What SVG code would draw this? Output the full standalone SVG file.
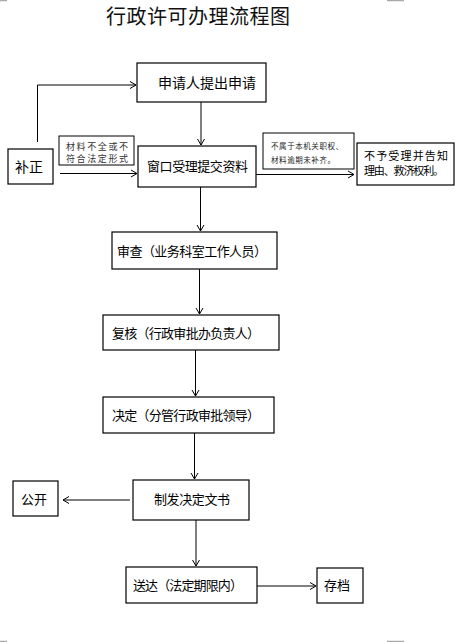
<svg xmlns="http://www.w3.org/2000/svg" width="469" height="642" viewBox="0 0 469 642">
<defs>
<marker id="arr" markerWidth="10" markerHeight="10" refX="8" refY="5" orient="auto" markerUnits="userSpaceOnUse">
<polyline points="2,1.5 8,5 2,8.5" fill="none" stroke="#000" stroke-width="1"/>
</marker>
<style>
text{font-family:"Noto Sans CJK SC","Noto Sans CJK JP",sans-serif;fill:#000}
.box{fill:#fff;stroke:#000;stroke-width:1.2}
.t13{font-size:13px}
.t14{font-size:14px}
.sm{font-size:9px;fill:#333}
.xs{font-size:7.5px;fill:#222}
.ln{fill:none;stroke:#000;stroke-width:1}
.mk{stroke:#aaa;stroke-width:1.5}
</style>
</defs>
<rect width="469" height="642" fill="#fff"/>
<line class="mk" x1="0" y1="0.5" x2="7" y2="0.5"/>
<line class="mk" x1="387" y1="0.5" x2="404" y2="0.5"/>
<line class="mk" x1="0" y1="641.5" x2="7" y2="641.5"/>
<line class="mk" x1="387" y1="641.5" x2="404" y2="641.5"/>
<text x="106" y="24" style="font-size:20px;fill:#111" textLength="184">行政许可办理流程图</text>

<g id="connectors">
<polyline class="ln" points="37.5,142 37.5,85 136,85" marker-end="url(#arr)"/>
<line class="ln" x1="201" y1="102" x2="201" y2="145" marker-end="url(#arr)"/>
<line class="ln" x1="60" y1="173.5" x2="137" y2="173.5" marker-end="url(#arr)"/>
<line class="ln" x1="256" y1="174.5" x2="354" y2="174.5" marker-end="url(#arr)"/>
<line class="ln" x1="200.5" y1="187" x2="200.5" y2="231" marker-end="url(#arr)"/>
<line class="ln" x1="199.5" y1="269" x2="199.5" y2="314" marker-end="url(#arr)"/>
<line class="ln" x1="195.5" y1="350" x2="195.5" y2="396" marker-end="url(#arr)"/>
<line class="ln" x1="194.5" y1="433" x2="194.5" y2="479" marker-end="url(#arr)"/>
<line class="ln" x1="130" y1="500" x2="63" y2="500" marker-end="url(#arr)"/>
<line class="ln" x1="196" y1="520" x2="196" y2="566" marker-end="url(#arr)"/>
<line class="ln" x1="257" y1="586" x2="316" y2="586" marker-end="url(#arr)"/>
</g>

<g id="n-apply">
<rect class="box" x="137" y="63" width="129" height="39"/>
<text class="t14" x="158" y="88">申请人提出申请</text>
</g>
<g id="n-correct">
<rect class="box" x="8" y="149" width="45" height="35"/>
<text class="t14" x="15" y="172">补正</text>
</g>
<g id="l-incomplete">
<rect class="box" x="59" y="136" width="75" height="29" style="stroke-width:1"/>
<text class="sm" x="66" y="150" textLength="62">材料不全或不</text>
<text class="sm" x="66" y="162" textLength="62">符合法定形式</text>
</g>
<g id="n-window">
<rect class="box" x="138" y="146" width="118" height="41"/>
<text class="t13" x="147" y="171" textLength="101">窗口受理提交资料</text>
</g>
<g id="l-notour">
<rect class="box" x="263" y="133" width="91" height="36" style="stroke-width:1"/>
<text class="xs" x="271" y="149" textLength="72">不属于本机关职权、</text>
<text class="xs" x="271" y="163" textLength="64">材料逾期未补齐。</text>
</g>
<g id="n-reject">
<rect class="box" x="357" y="143" width="97" height="42"/>
<text x="364" y="160" style="font-size:11px" textLength="84">不予受理并告知</text>
<text x="364" y="175" style="font-size:11px" textLength="80">理由、救济权利。</text>
</g>
<g id="n-review">
<rect class="box" x="112" y="232" width="165" height="37"/>
<text class="t13" x="117" y="256" textLength="150">审查（业务科室工作人员）</text>
</g>
<g id="n-recheck">
<rect class="box" x="103" y="315" width="176" height="35"/>
<text class="t13" x="112" y="338" textLength="148">复核（行政审批办负责人）</text>
</g>
<g id="n-decide">
<rect class="box" x="103" y="397" width="171" height="36"/>
<text class="t13" x="112" y="420" textLength="148">决定（分管行政审批领导）</text>
</g>
<g id="n-issue">
<rect class="box" x="133" y="480" width="116" height="40"/>
<text class="t13" x="154" y="504" textLength="76">制发决定文书</text>
</g>
<g id="n-public">
<rect class="box" x="13" y="481" width="45" height="35"/>
<text class="t13" x="21" y="504">公开</text>
</g>
<g id="n-deliver">
<rect class="box" x="126" y="567" width="131" height="36"/>
<text class="t13" x="133" y="590" textLength="110">送达（法定期限内）</text>
</g>
<g id="n-archive">
<rect class="box" x="317" y="568" width="46" height="35"/>
<text class="t13" x="324" y="590">存档</text>
</g>
</svg>
